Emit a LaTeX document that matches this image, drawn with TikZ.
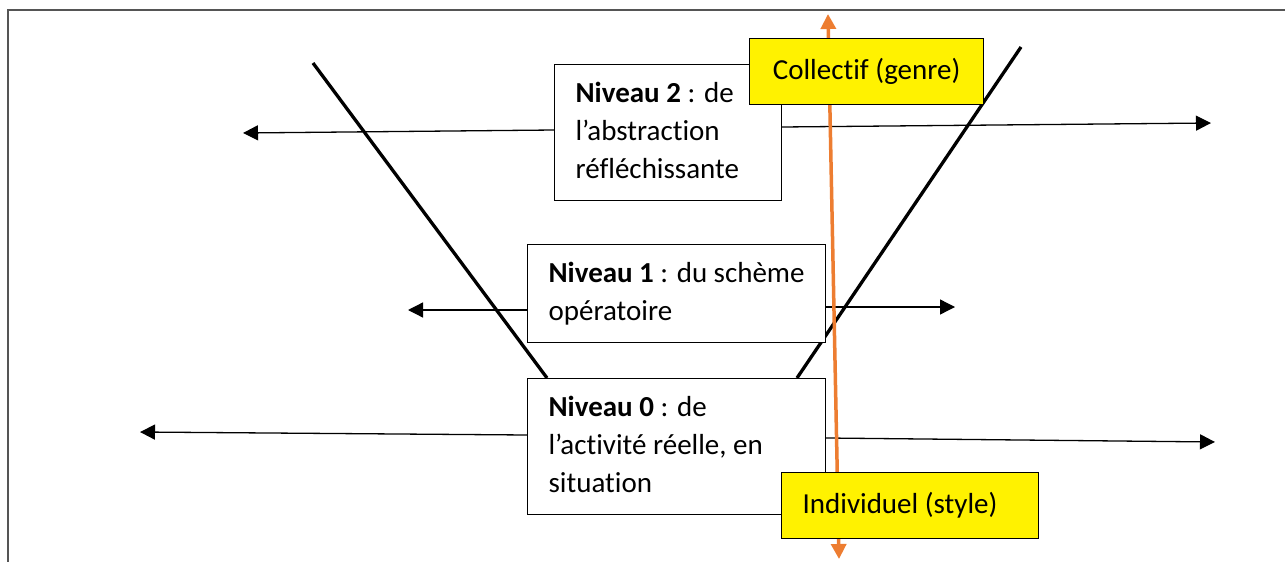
\documentclass[tikz,border=0pt]{standalone}
\usepackage{fontspec}
\setmainfont{Carlito}[Ligatures={NoCommon}]
\usetikzlibrary{arrows.meta,calc}
\definecolor{orangeA}{HTML}{ED7D31}
\definecolor{frameG}{HTML}{555555}
\newcommand{\lvltext}[2]{\parbox[c]{#1}{\raggedright #2}}
\begin{document}
\begin{tikzpicture}[x=1pt,y=-1pt,
  lvl/.style={draw, line width=1.2pt, fill=white, inner xsep=21pt, inner ysep=0pt,
    anchor=north west, font=\fontsize{29}{38}\selectfont},
  tag/.style={draw, line width=1.2pt, fill=yellow, inner ysep=0pt, anchor=north west,
    font=\fontsize{29}{38}\selectfont},
  harrow/.style={line width=1.3pt, -{Triangle[length=15pt,width=15pt]}},
  vline/.style={line width=3.3pt},
  oarrow/.style={draw=orangeA, line width=3.5pt,
    {Triangle[length=15pt,width=15pt]}-{Triangle[length=15pt,width=15pt]}}]
\useasboundingbox (0,0) rectangle (1285,562);
% frame
\draw[frameG, line width=1.5pt] (8,562) -- (8,10) -- (1285,10);
% free ends
\coordinate (l2) at (243,133); \coordinate (r2) at (1211,123);
\coordinate (l1) at (408,310); \coordinate (r1) at (955,307);
\coordinate (l0) at (140,432); \coordinate (r0) at (1215,442);
\coordinate (vlt) at (313,63); \coordinate (vlb) at (547,378);
\coordinate (vrt) at (1021,47); \coordinate (vrb) at (797,378);
\coordinate (ot) at (828,14); \coordinate (ob) at (839,559);
% V lines
\draw[vline] (vlt) -- (vlb);
\draw[vline] (vrt) -- (vrb);
% level boxes
\node[lvl, minimum height=136pt] (n2) at (554,64)
  {\lvltext{185pt}{\strut\textbf{Niveau 2} : de\\l’abstraction\\réfléchissante\strut}};
\node[lvl, minimum height=98pt] (n1) at (527,244)
  {\lvltext{256pt}{\strut\textbf{Niveau 1} : du schème\\opératoire\strut}};
\node[lvl, minimum height=136pt] (n0) at (527,378)
  {\lvltext{256pt}{\strut\textbf{Niveau 0} : de\\l’activité réelle, en\\situation\strut}};
% horizontal arrows
\draw[harrow] ($(n2.north west)+(0,66)$) -- (l2);
\draw[harrow] ($(n2.north east)+(0,63)$) -- (r2);
\draw[harrow] ($(n1.north west)+(0,66)$) -- (l1);
\draw[harrow] ($(n1.north east)+(0,63)$) -- (r1);
\draw[harrow] ($(n0.north west)+(0,57)$) -- (l0);
\draw[harrow] ($(n0.north east)+(0,60)$) -- (r0);
% orange double arrow
\draw[oarrow] (ob) -- (ot);
% yellow tags
\node[tag, minimum width=234pt, minimum height=66pt] (col) at (749,38)
  {Collectif (genre)};
\node[tag, minimum height=66pt, inner xsep=21pt] (ind) at (781,472)
  {\lvltext{215pt}{Individuel (style)}};
\end{tikzpicture}
\end{document}
